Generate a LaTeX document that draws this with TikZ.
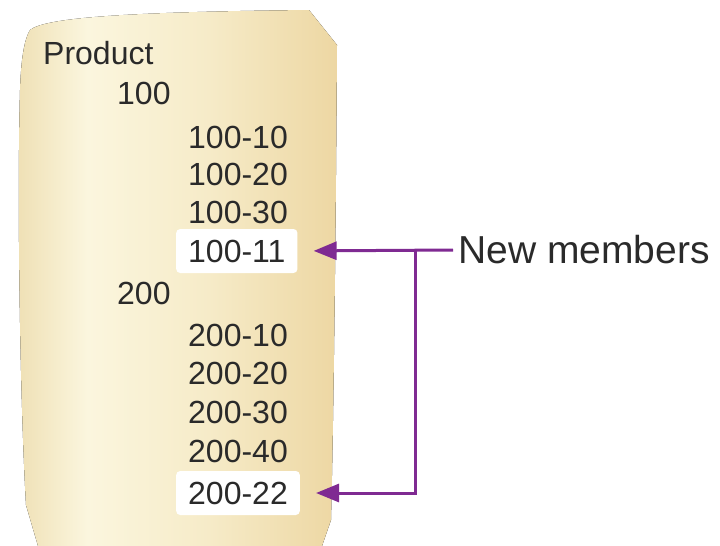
\documentclass[tikz,border=0pt]{standalone}
\usepackage{fontspec}
\setmainfont{Liberation Sans}
\usetikzlibrary{arrows.meta}
\definecolor{paperL}{HTML}{EFE0B5}
\definecolor{paperC}{HTML}{FBF6DE}
\definecolor{paperM}{HTML}{F6EBC8}
\definecolor{paperR}{HTML}{EDD7A3}
\definecolor{newc}{HTML}{7F2A92}
\definecolor{ink}{HTML}{2A2A2A}
\pgfdeclarehorizontalshading{paper}{100bp}{color(0bp)=(paperL); color(25bp)=(paperL); color(36bp)=(paperC); color(55bp)=(paperM); color(75bp)=(paperR); color(100bp)=(paperR)}
\tikzset{
  item/.style={anchor=west,inner sep=0pt,text depth=0pt,text=ink,font=\fontsize{32}{36}\selectfont},
  newitem/.style={item,fill=white,rounded corners=4pt,inner xsep=12pt,minimum height=44pt},
  ar/.style={-{Triangle[length=23pt,width=18pt]},line width=3pt,draw=newc},
}
\begin{document}
\begin{tikzpicture}[x=1pt,y=-1pt]
  \useasboundingbox (0,0) rectangle (720,546);
  % the sheet
  \fill[shading=paper] (30,30) .. controls (45,18) and (120,12) .. (309,10) -- (337,45)
    .. controls (336,200) and (334,400) .. (331,520) -- (322,546) -- (38,546) -- (26,505)
    .. controls (20,400) and (17,200) .. (20,90) .. controls (21,60) and (24,40) .. (30,30) -- cycle;
  % outline
  \node[item] (prod) at (43,53) {Product};
  \node[item] (p100) at (117,93) {100};
  \foreach \t/\y [count=\i] in {100-10/137,100-20/174,100-30/212}
    \node[item] (a\i) at (188,\y) {\t};
  \node[newitem] (n11) at (176,251) {100-11};
  \node[item] (p200) at (117,293) {200};
  \foreach \t/\y [count=\i] in {200-10/335,200-20/373,200-30/412,200-40/451}
    \node[item] (b\i) at (188,\y) {\t};
  \node[newitem] (n22) at (176,493) {200-22};
  % label and arrows
  \node[anchor=west,inner sep=5pt,text=ink,font=\fontsize{39}{42}\selectfont] (lbl) at (453,250) {New members};
  \coordinate (j) at (415,250);
  \draw[ar,shorten >=16pt] (lbl.west) -- (n11.east);
  \draw[ar,shorten >=16pt] (j) |- (n22.east);
\end{tikzpicture}
\end{document}
